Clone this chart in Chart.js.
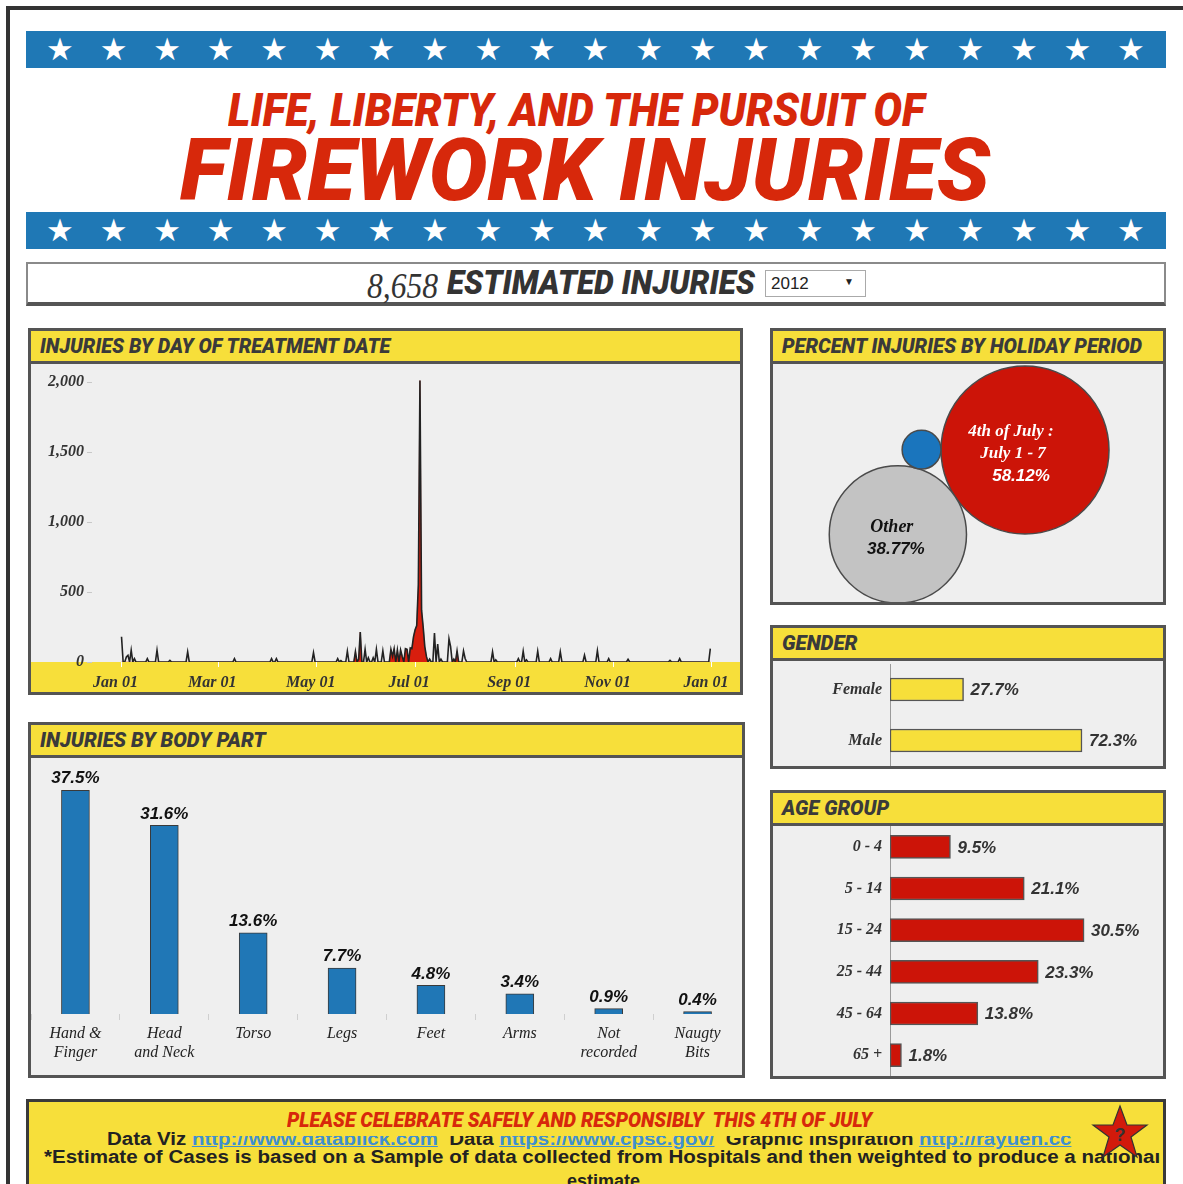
<!DOCTYPE html>
<html>
<head>
<meta charset="utf-8">
<script src="https://cdn.jsdelivr.net/npm/chart.js@4.4.1/dist/chart.umd.min.js"></script>
<style>
body { margin: 0; width: 1183px; height: 1184px; background: #fff; position: relative; overflow: hidden; font-family: 'Liberation Sans', Arial, sans-serif; }
.frame { position: absolute; left: 6px; top: 6px; width: 1300px; height: 1300px; border-left: 4px solid #333; border-top: 4px solid #333; }
.band { position: absolute; left: 26px; width: 1140px; height: 37px; background: #1f78b5; }
.star { position: absolute; top: 0; color: #fff; font: 31px 'DejaVu Sans'; line-height: 37px; transform: translateX(-50%); }
.heavy { position: absolute; font-family: Roboto, 'DejaVu Sans', sans-serif; font-weight: 900; font-style: italic; white-space: nowrap; transform-origin: 0 0; }
.fit { position: absolute; white-space: nowrap; transform-origin: 0 0; }
.panel { position: absolute; box-sizing: border-box; border: 3px solid #545454; background: #efefef; }
.hdr { height: 30px; background: #f7df3a; border-bottom: 3px solid #545454; position: relative; }
.hdr .heavy { left: 9px; top: 0; line-height: 30px; font-size: 21px; color: #3a3a3a; }
canvas { position: absolute; display: block; }
.title { color: #d7280b; }
.box { position: absolute; left: 26px; top: 262px; width: 1140px; height: 44px; box-sizing: border-box; border: 2px solid #8a8a8a; border-bottom: 4px solid #555; background: #fff; }
.sel { position: absolute; left: 765px; top: 270px; width: 101px; height: 27px; box-sizing: border-box; border: 1px solid #aaa; background: #fff; font: 17px 'Liberation Sans'; color: #222; }
.foot { position: absolute; left: 26px; top: 1099px; width: 1140px; height: 110px; box-sizing: border-box; border: 3px solid #3a3a3a; background: #f7df3a; overflow: hidden; }
.foot a { color: #3f8fd0; text-decoration: underline; }
.ftxt { font-weight: bold; font-size: 18px; line-height: 18px; color: #222; }
</style>
</head>
<body>
<div class="frame"></div>
<div class="band" id="band1" style="top:31px"></div>
<div class="band" id="band2" style="top:212px"></div>

<div class="heavy title" id="t1" style="left:228px;top:87px;font-size:46px;line-height:46px">LIFE, LIBERTY, AND THE PURSUIT OF</div>
<div class="heavy title" id="t2" style="left:180px;top:127px;font-size:87px;line-height:87px">FIREWORK INJURIES</div>

<div class="box"></div>
<div class="fit" id="est" style="left:367px;top:268px;font:italic 36px 'Liberation Serif';line-height:36px;color:#333">8,658</div>
<div class="heavy" id="estT" style="left:447px;top:266px;font-size:33px;line-height:33px;color:#333">ESTIMATED INJURIES</div>
<div class="sel"><span style="position:absolute;left:5px;top:3px">2012</span><span style="position:absolute;left:78px;top:5px;font-size:10px">&#9660;</span></div>

<div class="panel" style="left:28px;top:328px;width:715px;height:367px"><div class="hdr"><span class="heavy" id="h1">INJURIES BY DAY OF TREATMENT DATE</span></div></div>
<div class="panel" style="left:770px;top:328px;width:396px;height:277px"><div class="hdr"><span class="heavy" id="h2">PERCENT INJURIES BY HOLIDAY PERIOD</span></div></div>
<div class="panel" style="left:770px;top:625px;width:396px;height:144px"><div class="hdr"><span class="heavy" id="h3">GENDER</span></div></div>
<div class="panel" style="left:770px;top:790px;width:396px;height:289px"><div class="hdr"><span class="heavy" id="h4">AGE GROUP</span></div></div>
<div class="panel" style="left:28px;top:722px;width:717px;height:356px"><div class="hdr"><span class="heavy" id="h5">INJURIES BY BODY PART</span></div></div>

<canvas id="dayChart" width="709" height="328" style="left:31px;top:364px"></canvas>
<canvas id="holChart" width="390" height="238" style="left:773px;top:364px"></canvas>
<canvas id="genChart" width="390" height="105" style="left:773px;top:661px"></canvas>
<canvas id="ageChart" width="390" height="250" style="left:773px;top:826px"></canvas>
<canvas id="bodyChart" width="711" height="317" style="left:31px;top:758px"></canvas>

<div class="foot">
  <div class="fit ftxt" id="f2" style="left:78px;top:28px">Data Viz <a>http://www.datablick.com</a>&nbsp; Data <a>https://www.cpsc.gov/</a>&nbsp; Graphic inspiration <a>http://rayuen.cc</a></div>
  <div class="fit ftxt" id="f3" style="left:15px;top:46px">*Estimate of Cases is based on a Sample of data collected from Hospitals and then weighted to produce a national</div>
  <div class="fit ftxt" id="f4" style="left:538px;top:70px">estimate</div>
  <div style="position:absolute;left:161px;top:1px;width:888px;height:33px;background:#f7df3a">
    <span class="heavy" id="f1" style="left:97px;top:7px;font-size:21px;line-height:21px;color:#d7280b">PLEASE CELEBRATE SAFELY AND RESPONSIBLY&nbsp; THIS 4TH OF JULY</span>
  </div>
  <div style="position:absolute;left:1046px;top:0;width:95px;height:51px;background:#f7df3a">
    <svg width="60" height="56" style="position:absolute;left:15px;top:2px" viewBox="0 0 60 56">
      <polygon points="30,2 37,21 57,21 41,33 47,53 30,41 13,53 19,33 3,21 23,21" fill="#d21a0b" stroke="#333" stroke-width="1.2"/>
      <text x="30" y="37" text-anchor="middle" font-family="Liberation Sans" font-weight="bold" font-size="18" fill="#333">?</text>
    </svg>
  </div>
</div>

<script>
// ---- data ----
var dayDates = ['2012-01-01','2012-01-04','2012-01-05','2012-01-07','2012-01-09','2012-01-17','2012-01-23','2012-01-31',
  '2012-02-11','2012-03-11','2012-04-03','2012-04-06','2012-04-29','2012-05-14','2012-05-16','2012-05-20','2012-05-25',
  '2012-05-27','2012-05-28','2012-05-31','2012-06-02','2012-06-05','2012-06-07','2012-06-11','2012-06-16','2012-06-17',
  '2012-06-18','2012-06-20','2012-06-22','2012-06-23','2012-06-25','2012-06-26','2012-06-28','2012-06-29','2012-06-30',
  '2012-07-01','2012-07-02','2012-07-03','2012-07-04','2012-07-05','2012-07-06','2012-07-07','2012-07-08','2012-07-10',
  '2012-07-13','2012-07-15','2012-07-17','2012-07-22','2012-07-23','2012-07-25','2012-07-27','2012-07-31','2012-08-01',
  '2012-08-18','2012-08-20','2012-09-03','2012-09-06','2012-09-08','2012-09-15','2012-09-23','2012-09-29','2012-10-14',
  '2012-10-22','2012-10-29','2012-11-10','2012-12-06','2012-12-12','2012-12-31'];
var dayCounts = [180, 36, 48, 84, 24, 24, 84, 12,
  72, 24, 24, 24, 67, 24, 10, 77, 75,
  20, 214, 90, 30, 30, 90, 80, 90, 40,
  95, 86, 86, 40, 95, 90, 100, 95, 180,
  230, 260, 550, 2010, 370, 250, 110, 40, 20,
  207, 128, 20, 166, 110, 20, 80, 79, 25,
  72, 15, 24, 77, 15, 77, 24, 72, 48,
  81, 24, 19, 12, 24, 96];
var holidayStart = ['2012-05-25', '2012-06-15', '2012-07-25'];
var holidayEnd = ['2012-05-29', '2012-07-09', '2012-07-27'];
var dayTickDates = ['2012-01-01','2012-03-01','2012-05-01','2012-07-01','2012-09-01','2012-11-01','2013-01-01'];
var dayTickLabels = ['Jan 01','Mar 01','May 01','Jul 01','Sep 01','Nov 01','Jan 01'];
var dayYTicks = [0, 500, 1000, 1500, 2000];

var holidayNames = ['4th of July : July 1 - 7', 'Other', 'Other holidays'];
var holidayPct = [58.12, 38.77, 3.11];

var genderLabels = ['Female', 'Male'];
var genderPct = [27.7, 72.3];

var ageLabels = ['0 - 4', '5 - 14', '15 - 24', '25 - 44', '45 - 64', '65 +'];
var agePct = [9.5, 21.1, 30.5, 23.3, 13.8, 1.8];

var bodyLabels = [['Hand &', 'Finger'], ['Head', 'and Neck'], 'Torso', 'Legs', 'Feet', 'Arms', ['Not', 'recorded'], ['Naugty', 'Bits']];
var bodyPct = [37.5, 31.6, 13.6, 7.7, 4.8, 3.4, 0.9, 0.4];

// ---- decoration ----
['band1', 'band2'].forEach(function(id) {
    var b = document.getElementById(id);
    for (var i = 0; i < 21; i++) {
        var s = document.createElement('span');
        s.className = 'star';
        s.style.left = (34 + i * 53.55) + 'px';
        s.innerHTML = '&#9733;';
        b.appendChild(s);
    }
});

function fit(id, w) {
    var el = document.getElementById(id);
    el.style.transform = 'scaleX(' + (w / el.offsetWidth) + ')';
}
fit('t1', 697); fit('t2', 810); fit('est', 71); fit('estT', 308);
fit('h1', 350); fit('h2', 360); fit('h3', 75); fit('h4', 107); fit('h5', 226);
fit('f1', 585); fit('f2', 965); fit('f3', 1116);

Chart.defaults.animation = false;
Chart.defaults.plugins.legend.display = false;
Chart.defaults.plugins.tooltip.enabled = false;
Chart.defaults.responsive = false;
Chart.defaults.color = '#333';
Chart.defaults.layout.autoPadding = false;

var serifBI = { family: 'Liberation Serif', size: 16, style: 'italic', weight: 'bold' };

// drop the half-label padding chart.js reserves at the ends of an axis
function noPad(s) {
    s.paddingTop = 0; s.paddingBottom = 0; s.paddingLeft = 0; s.paddingRight = 0;
}

function dayNum(s) {
    return Math.round((Date.parse(s) - Date.parse('2012-01-01')) / 86400000);
}

// ---- injuries by day ----
var countByDay = {};
dayDates.forEach(function(d, i) { countByDay[dayNum(d)] = dayCounts[i]; });
var allPts = [], redPts = [];
for (var d = 0; d <= 365; d++) {
    var v = countByDay[d] || 0;
    var inHol = holidayStart.some(function(s, i) { return d >= dayNum(s) && d <= dayNum(holidayEnd[i]); });
    allPts.push({ x: d, y: v });
    redPts.push({ x: d, y: inHol ? v : 0 });
}
var dayTicks = dayTickDates.map(dayNum);

var axisBand = {
    id: 'axisBand',
    beforeDraw: function(chart) {
        var ctx = chart.ctx;
        ctx.save();
        ctx.fillStyle = '#f7df3a';
        ctx.fillRect(0, chart.chartArea.bottom, chart.width, chart.height - chart.chartArea.bottom);
        ctx.restore();
    }
};

new Chart(document.getElementById('dayChart'), {
    type: 'line',
    data: {
        datasets: [
            { data: allPts, borderColor: '#222', borderWidth: 1.6, pointRadius: 0, tension: 0, fill: false, order: 0 },
            { data: redPts, borderColor: '#d81e0e', backgroundColor: '#d81e0e', borderWidth: 0.5, pointRadius: 0, tension: 0, fill: 'origin', order: 1 }
        ]
    },
    options: {
        layout: { padding: { top: 4 } },
        scales: {
            x: {
                type: 'linear', min: -18.3, max: 383.4,
                afterBuildTicks: function(s) { s.ticks = dayTicks.map(function(v) { return { value: v }; }); },
                afterFit: function(s) { s.height = 30; noPad(s); },
                ticks: { autoSkip: false, maxRotation: 0, padding: 6, labelOffset: -6, font: serifBI, color: '#333',
                    callback: function(v) { return dayTickLabels[dayTicks.indexOf(v)]; } },
                grid: { drawOnChartArea: false, tickLength: 5, color: '#ffffff' },
                border: { display: false }
            },
            y: {
                min: 0, max: 2100,
                afterBuildTicks: function(s) { s.ticks = dayYTicks.map(function(v) { return { value: v }; }); },
                afterFit: function(s) { s.width = 61; noPad(s); },
                ticks: { padding: 3, font: { family: 'Liberation Serif', size: 16, style: 'italic', weight: 'bold' }, color: '#333',
                    callback: function(v) { return v.toLocaleString('en-US'); } },
                grid: { drawOnChartArea: false, tickLength: 5, color: '#c8c8c8' },
                border: { display: false }
            }
        }
    },
    plugins: [axisBand]
});

// ---- holiday bubbles ----
var bubbleScale = 11.02;   // px of radius per sqrt(percent)
var radii = holidayPct.map(function(p) { return bubbleScale * Math.sqrt(p); });
var anchor = { x: 252, y: 86 }, grayAngle = 146.4 * Math.PI / 180;
var dA = radii[0] + radii[1], d1 = radii[0] + radii[2], d2 = radii[1] + radii[2];
var blueAngle = grayAngle + Math.acos((d1 * d1 + dA * dA - d2 * d2) / (2 * d1 * dA));
var bubbles = [
    { x: anchor.x, y: anchor.y, r: radii[0] },
    { x: anchor.x + dA * Math.cos(grayAngle), y: anchor.y + dA * Math.sin(grayAngle), r: radii[1] },
    { x: anchor.x + d1 * Math.cos(blueAngle), y: anchor.y + d1 * Math.sin(blueAngle), r: radii[2] }
];

var bubbleText = {
    id: 'bubbleText',
    afterDatasetsDraw: function(chart) {
        var ctx = chart.ctx, pts = chart.getDatasetMeta(0).data;
        ctx.save();
        ctx.textAlign = 'center';
        ctx.textBaseline = 'middle';
        var a = pts[0], b = pts[1];
        var parts = holidayNames[0].split(' : ');
        ctx.fillStyle = '#fff';
        ctx.font = 'italic bold 17px "Liberation Serif"';
        ctx.fillText(parts[0] + ' :', a.x - 14, a.y - 18);
        ctx.fillText(parts[1], a.x - 12, a.y + 4);
        ctx.font = 'italic bold 17px "Liberation Sans"';
        ctx.fillText(holidayPct[0].toFixed(2) + '%', a.x - 4, a.y + 26);
        ctx.fillStyle = '#111';
        ctx.font = 'italic bold 18px "Liberation Serif"';
        ctx.fillText(holidayNames[1], b.x - 6, b.y - 7);
        ctx.font = 'italic bold 17px "Liberation Sans"';
        ctx.fillText(holidayPct[1].toFixed(2) + '%', b.x - 2, b.y + 15);
        ctx.restore();
    }
};

new Chart(document.getElementById('holChart'), {
    type: 'bubble',
    data: {
        labels: holidayNames,
        datasets: [{ data: bubbles, backgroundColor: ['#cc1408', '#c3c3c3', '#1a75bd'], borderColor: '#4a4a4a', borderWidth: 1.5, clip: false }]
    },
    options: {
        scales: {
            x: { display: false, min: 0, max: 390 },
            y: { display: false, min: 0, max: 238, reverse: true }
        }
    },
    plugins: [bubbleText]
});

// ---- bar value labels ----
var valueLabels = {
    id: 'valueLabels',
    afterDatasetsDraw: function(chart) {
        var ctx = chart.ctx, data = chart.data.datasets[0].data;
        ctx.save();
        ctx.font = 'italic bold 17px "Liberation Sans"';
        ctx.fillStyle = '#333';
        chart.getDatasetMeta(0).data.forEach(function(bar, i) {
            var txt = data[i].toFixed(1) + '%';
            if (chart.options.indexAxis === 'y') {
                ctx.textAlign = 'left'; ctx.textBaseline = 'middle';
                ctx.fillText(txt, bar.x + 7, bar.y + 1);
            } else {
                ctx.fillStyle = '#111';
                ctx.textAlign = 'center'; ctx.textBaseline = 'bottom';
                ctx.fillText(txt, bar.x, bar.y - 3);
            }
        });
        ctx.restore();
    }
};

function hbar(id, labels, values, color, max, padTop) {
    return new Chart(document.getElementById(id), {
        type: 'bar',
        data: { labels: labels, datasets: [{ data: values, backgroundColor: color, borderColor: '#555', borderWidth: 1.5, borderSkipped: false, barThickness: 23 }] },
        options: {
            indexAxis: 'y',
            layout: { padding: { top: padTop } },
            scales: {
                x: { display: false, min: 0, max: max },
                y: {
                    afterFit: function(s) { s.width = 117; noPad(s); },
                    ticks: { padding: 8, font: serifBI, color: '#333' },
                    grid: { display: false, drawTicks: false },
                    border: { display: true, color: '#9a9a9a', dash: [2, 2], width: 1 }
                }
            }
        },
        plugins: [valueLabels]
    });
}
hbar('genChart', genderLabels, genderPct, '#f7df3a', 102.8, 3);
hbar('ageChart', ageLabels, agePct, '#cc1408', 42.9, 0);

// ---- body part ----
new Chart(document.getElementById('bodyChart'), {
    type: 'bar',
    data: { labels: bodyLabels, datasets: [{ data: bodyPct, backgroundColor: '#2077b6', borderColor: '#3a3a3a', borderWidth: 1, barThickness: 28 }] },
    options: {
        scales: {
            x: {
                afterFit: function(s) { s.height = 61; noPad(s); },
                ticks: { padding: 4, font: { family: 'Liberation Serif', size: 16, style: 'italic' }, color: '#222', maxRotation: 0, autoSkip: false },
                grid: { drawOnChartArea: false, offset: true, tickLength: 6, color: '#cfcfcf' },
                border: { display: false }
            },
            y: { display: false, min: 0, max: 42.9 }
        }
    },
    plugins: [valueLabels]
});
</script>
</body>
</html>
